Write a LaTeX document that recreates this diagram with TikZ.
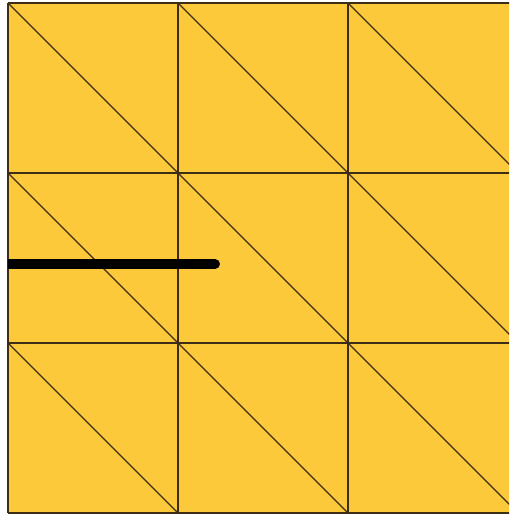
\documentclass[tikz,border=0pt]{standalone}
\usepackage{tikz}
\usetikzlibrary{positioning}
\definecolor{meshyellow}{RGB}{252,201,58}
\definecolor{meshedge}{RGB}{60,45,20}

\begin{document}
\begin{tikzpicture}[x=3.4cm, y=3.4cm]
\tikzset{
    meshline/.style={draw=meshedge, line width=0.7pt},
    slitline/.style={draw=black, line width=5.6pt, line cap=round}
}
% White page with the reference margins
\fill[white] (-0.047,-0.029) rectangle (2.947,3.018);
\useasboundingbox (-0.047,-0.029) rectangle (2.947,3.018);

\begin{scope}
\clip (-0.01,-0.01) rectangle (2.947,3.01);
% Yellow cells
\fill[meshyellow] (0,0) rectangle (3,3);

% Grid lines
\foreach \k in {0,1,2,3} {
    \draw[meshline] (\k,0) -- (\k,3);
    \draw[meshline] (0,\k) -- (3,\k);
}

% Diagonals, top left to bottom right in every cell
\foreach \i in {0,1,2} {
    \foreach \j in {0,1,2} {
        \draw[meshline] (\i,\j+1) -- (\i+1,\j);
    }
}
\end{scope}

% Thick slit from the left edge
\begin{scope}
\clip (0,0) rectangle (3,3);
\coordinate (slitA) at (-0.1,1.465);
\coordinate (slitB) at (1.218,1.465);
\draw[slitline] (slitA) -- (slitB);
\end{scope}
\end{tikzpicture}
\end{document}
